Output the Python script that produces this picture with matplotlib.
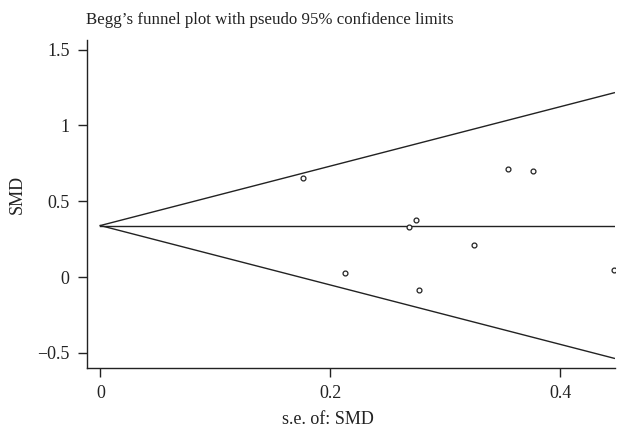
import numpy as np
import matplotlib
matplotlib.use('Agg')
import matplotlib.pyplot as plt

# Study-level standard errors and effect sizes (SMD)
se = [0.1765, 0.2125, 0.2687, 0.2743, 0.2774, 0.3247, 0.3545, 0.3765, 0.447]
smd = [0.651, 0.028, 0.332, 0.374, -0.086, 0.209, 0.715, 0.702, 0.048]

pooled = 0.34
se_max = 0.447

x_ticks = [0, 0.2, 0.4]
x_tick_labels = ['0', '0.2', '0.4']
y_ticks = [-0.5, 0, 0.5, 1, 1.5]
y_tick_labels = ['\u22120.5', '0', '0.5', '1', '1.5']

plt.rcParams['font.family'] = ['Liberation Serif', 'DejaVu Serif']

fig = plt.figure(figsize=(6.25, 4.32), dpi=100)
ax = fig.add_axes([0.1392, 0.1481, 0.8448, 0.7593])

col = '#222222'
se_line = np.array([0, se_max])
ax.plot(se_line, pooled + 1.96 * se_line, color=col, lw=1.0)
ax.plot(se_line, pooled - 1.96 * se_line, color=col, lw=1.0)
ax.plot(se_line, [pooled, pooled], color=col, lw=1.0)

ax.plot(se, smd, linestyle='none', marker='o', markersize=3.5,
        markerfacecolor='white', markeredgecolor=col, markeredgewidth=0.9)

ax.set_xlim(-0.0116, 0.4476)
ax.set_ylim(-0.60, 1.564)
ax.set_xticks(x_ticks)
ax.set_xticklabels(x_tick_labels)
ax.set_yticks(y_ticks)
ax.set_yticklabels(y_tick_labels)
ax.tick_params(direction='out', length=6.5, width=1, colors=col,
               labelsize=13, labelcolor='#222222', pad=6)

for side in ['top', 'right']:
    ax.spines[side].set_visible(False)
for side in ['left', 'bottom']:
    ax.spines[side].set_color(col)
    ax.spines[side].set_linewidth(1.0)

ax.set_xlabel('s.e. of: SMD', fontsize=13, color='#222222')
ax.xaxis.set_label_coords(0.456, -0.13)
ax.set_ylabel('SMD', fontsize=13, color='#222222')
ax.yaxis.set_label_coords(-0.1155, 0.53)

fig.text(0.1376, 0.953, "Begg\u2019s funnel plot with pseudo 95% confidence limits",
         fontsize=12.2, color='#222222', ha='left', va='center')

fig.savefig('out.png', dpi=100)
